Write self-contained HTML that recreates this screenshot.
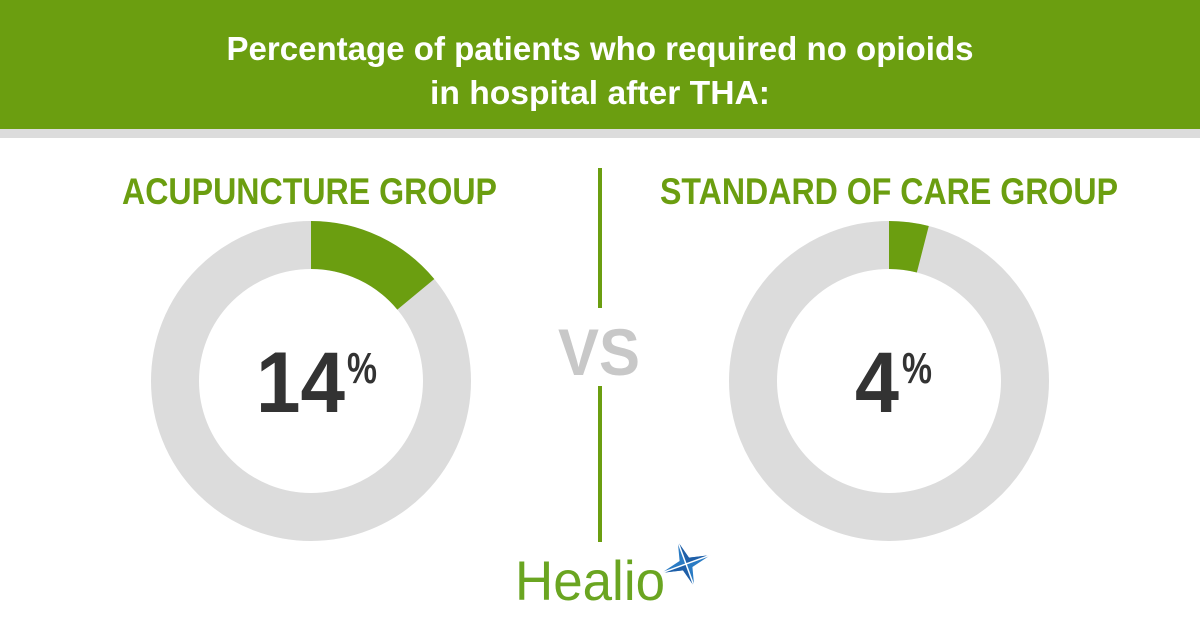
<!DOCTYPE html>
<html><head><meta charset="utf-8"><style>html,body{margin:0;padding:0;background:#fff}svg{display:block}</style></head>
<body>
<svg width="1200" height="630" viewBox="0 0 1200 630" xmlns="http://www.w3.org/2000/svg" font-family="Liberation Sans, sans-serif" font-weight="bold">
<rect x="0" y="0" width="1200" height="129" fill="#6b9e10"/>
<rect x="0" y="129" width="1200" height="9" fill="#dcdcdc"/>
<text x="600" y="60" fill="#fff" font-size="33" text-anchor="middle" textLength="747" lengthAdjust="spacingAndGlyphs">Percentage of patients who required no opioids</text>
<text x="600" y="104" fill="#fff" font-size="33" text-anchor="middle" textLength="340" lengthAdjust="spacingAndGlyphs">in hospital after THA:</text>
<text x="122" y="204" fill="#6b9e10" font-size="37" textLength="375" lengthAdjust="spacingAndGlyphs">ACUPUNCTURE GROUP</text>
<text x="660" y="204" fill="#6b9e10" font-size="37" textLength="458" lengthAdjust="spacingAndGlyphs">STANDARD OF CARE GROUP</text>
<rect x="598" y="168" width="4" height="140" fill="#6b9e10"/>
<rect x="598" y="386" width="4" height="156" fill="#6b9e10"/>
<text x="558" y="375" fill="#c8c8c8" font-size="66" textLength="82" lengthAdjust="spacingAndGlyphs">VS</text>
<circle cx="311" cy="381" r="136" fill="none" stroke="#dcdcdc" stroke-width="48"/>
<circle cx="311" cy="381" r="136" fill="none" stroke="#6b9e10" stroke-width="48" stroke-dasharray="119.6 1000" transform="rotate(-90 311 381)"/>
<circle cx="889" cy="381" r="136" fill="none" stroke="#dcdcdc" stroke-width="48"/>
<circle cx="889" cy="381" r="136" fill="none" stroke="#6b9e10" stroke-width="48" stroke-dasharray="34.2 1000" transform="rotate(-90 889 381)"/>
<text x="256" y="412" fill="#333" font-size="86" textLength="89" lengthAdjust="spacingAndGlyphs">14</text>
<text x="347" y="383" fill="#333" font-size="44" textLength="30" lengthAdjust="spacingAndGlyphs">%</text>
<text x="855" y="412" fill="#333" font-size="86" textLength="44" lengthAdjust="spacingAndGlyphs">4</text>
<text x="902" y="383" fill="#333" font-size="44" textLength="30" lengthAdjust="spacingAndGlyphs">%</text>
<text x="515" y="600" fill="#6aa521" font-size="56" font-weight="normal" textLength="150" lengthAdjust="spacingAndGlyphs">Healio</text>
<g transform="translate(686,564) rotate(-20)">
<polygon points="0,-24 5,-5 26,0 5,5 0,24 -5,5 -26,0 -5,-5" fill="#2a7bc4"/>
<polygon points="0,-24 5,-5 26,0 0,0" fill="#1f5fa8"/>
<polygon points="0,24 -5,5 -26,0 0,0" fill="#1f5fa8"/>
<path d="M0,-24 L0,24 M-26,0 L26,0" stroke="#fff" stroke-width="1.5"/>
</g>
</svg>
</body></html>
